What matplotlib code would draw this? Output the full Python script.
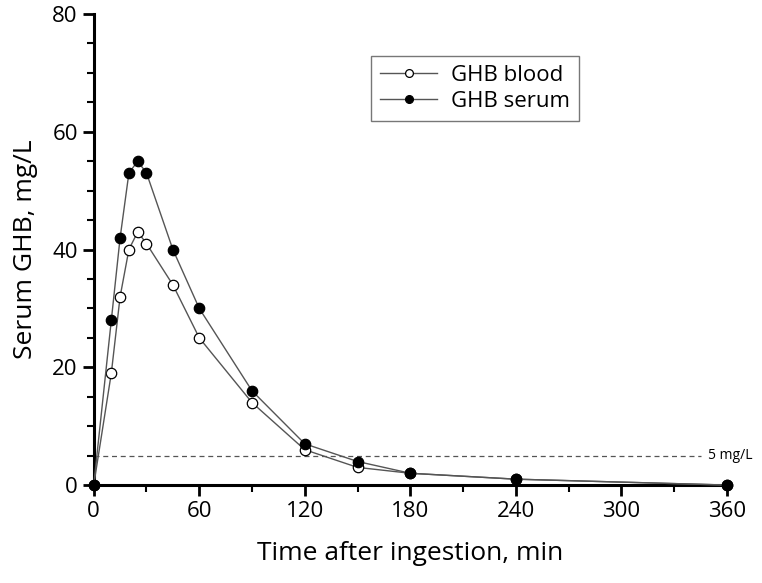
import matplotlib.pyplot as plt
from matplotlib.ticker import MultipleLocator

plt.rcParams['font.family'] = ['Open Sans', 'DejaVu Sans']

# sampling times (min) and concentrations (mg/L)
time = [0, 10, 15, 20, 25, 30, 45, 60, 90, 120, 150, 180, 240, 360]
blood = [0, 19, 32, 40, 43, 41, 34, 25, 14, 6, 3, 2, 1, 0]
serum = [0, 28, 42, 53, 55, 53, 40, 30, 16, 7, 4, 2, 1, 0]
threshold = 5

fig = plt.figure(figsize=(7.62, 5.83), dpi=100)
ax = fig.add_axes([0.123, 0.168, 0.831, 0.808])

ax.plot(time, blood, '-o', color='#555555', lw=1, ms=7.5,
        mfc='white', mec='black', mew=0.9, label='GHB blood', clip_on=False, zorder=3)
ax.plot(time, serum, '-o', color='#555555', lw=1, ms=7.5,
        mfc='black', mec='black', mew=0.9, label='GHB serum', clip_on=False, zorder=3)

ax.plot([0, 345], [threshold, threshold], ls=(0, (4, 3)), color='#555555', lw=0.9)
ax.text(349, threshold, '5 mg/L', fontsize=10, va='center', ha='left')

ax.set_xlim(0, 360)
ax.set_ylim(0, 80)
ax.xaxis.set_major_locator(MultipleLocator(60))
ax.xaxis.set_minor_locator(MultipleLocator(30))
ax.yaxis.set_major_locator(MultipleLocator(20))
ax.yaxis.set_minor_locator(MultipleLocator(5))

for s in ['top', 'right']:
    ax.spines[s].set_visible(False)
for s in ['left', 'bottom']:
    ax.spines[s].set_linewidth(2.2)

ax.tick_params(which='major', direction='out', length=8, width=2, labelsize=16)
ax.tick_params(which='minor', direction='out', length=5, width=1.5)

ax.set_xlabel('Time after ingestion, min', fontsize=19, labelpad=14)
ax.set_ylabel('Serum GHB, mg/L', fontsize=19, labelpad=10)

leg = ax.legend(loc='upper left', bbox_to_anchor=(0.42, 0.935), fontsize=16,
                frameon=True, fancybox=False, edgecolor='#555555',
                handlelength=2.6, markerscale=0.75, borderpad=0.4,
                labelspacing=0.25, handletextpad=0.6)
leg.get_frame().set_linewidth(1)

fig.savefig('out.png', dpi=100)
